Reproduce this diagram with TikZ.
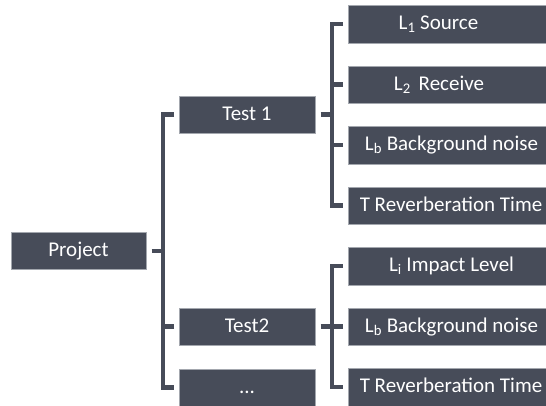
\documentclass[tikz,border=0pt]{standalone}
\usepackage{fontspec}
\setmainfont{Carlito}
\usetikzlibrary{calc}
\definecolor{boxc}{HTML}{474C59}
\definecolor{edgec}{HTML}{A3A7AE}
\begin{document}
\begin{tikzpicture}[x=1pt,y=1pt,
  box/.style={fill=boxc, draw=edgec, line width=0.4pt, minimum height=37.5pt, inner sep=0pt, outer sep=0pt},
  mid/.style={box, minimum width=136pt},
  leaf/.style={box, minimum width=212pt},
  txt/.style={text=white, font=\fontsize{21}{25}\selectfont, inner sep=0pt, text height=13.6pt, text depth=2pt},
  conn/.style={draw=boxc, line width=4.5pt, line join=miter, line cap=butt}]
\useasboundingbox (0,0) rectangle (546,-405);
\clip (0,0) rectangle (546,-405);
% level 0
\node[box, minimum width=135pt] (proj) at (78.5,-250.75) {};
\node[txt] (projt) at (proj.center) {Project};
% level 1
\node[mid] (t1) at (247,-114.5) {};
\node[txt] (t1t) at (t1.center) {Test 1};
\node[mid] (t2) at (247,-326.5) {};
\node[txt] (t2t) at (t2.center) {Test2};
\node[mid] (dots) at (247,-387.5) {};
\node[txt] (dotst) at (dots.center) {...};
% leaves
\node[leaf] (l1) at (454,-24) {};
\node[txt] (l1t) at ($(l1.center)+(-15.5,0)$) {L\textsubscript{1} Source};
\node[leaf] (l2) at (454,-84.5) {};
\node[txt] (l2t) at ($(l2.center)+(-15,0)$) {L\textsubscript{2}\hspace{8pt}Receive};
\node[leaf] (l3) at (454,-145) {};
\node[txt] (l3t) at ($(l3.center)+(-2.5,0)$) {L\textsubscript{b} Background noise};
\node[leaf] (l4) at (454,-205.5) {};
\node[txt] (l4t) at ($(l4.center)+(-3,0)$) {T Reverberation Time};
\node[leaf] (m1) at (454,-266) {};
\node[txt] (m1t) at ($(m1.center)+(-2.5,0)$) {L\textsubscript{i} Impact Level};
\node[leaf] (m2) at (454,-326.5) {};
\node[txt] (m2t) at ($(m2.center)+(-2.5,0)$) {L\textsubscript{b} Background noise};
\node[leaf] (m3) at (454,-387) {};
\node[txt] (m3t) at ($(m3.center)+(-3,0)$) {T Reverberation Time};
% connectors: project
\draw[conn] ($(proj.east)+(5.5,0)$) -- ($(proj.east)+(17.5,0)$);
\draw[conn] ($(t1.west)+(-5,0)$) -- ($(t1.west)+(-16,0)$) |- ($(dots.west)+(-5,0)$);
\draw[conn] ($(t2.west)+(-5,0)$) -- ($(t2.west)+(-16,0)$);
% connectors: test 1
\draw[conn] ($(t1.east)+(5.5,0)$) -- ($(t1.east)+(17,0)$);
\draw[conn] ($(l1.west)+(-5,0)$) -- ($(l1.west)+(-16,0)$) |- ($(l4.west)+(-5,0)$);
\draw[conn] ($(l2.west)+(-5,0)$) -- ($(l2.west)+(-16,0)$);
\draw[conn] ($(l3.west)+(-5,0)$) -- ($(l3.west)+(-16,0)$);
% connectors: test 2
\draw[conn] ($(t2.east)+(5.5,0)$) -- ($(t2.east)+(17,0)$);
\draw[conn] ($(m1.west)+(-5,0)$) -- ($(m1.west)+(-16,0)$) |- ($(m3.west)+(-5,0)$);
\draw[conn] ($(m2.west)+(-5,0)$) -- ($(m2.west)+(-16,0)$);
\end{tikzpicture}
\end{document}
